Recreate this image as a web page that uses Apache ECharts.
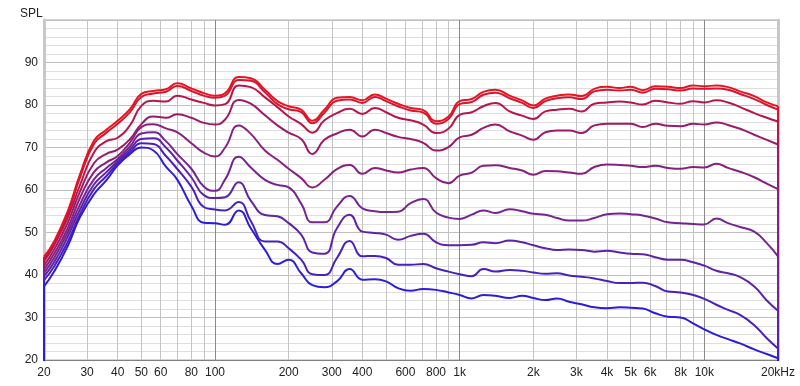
<!DOCTYPE html>
<html><head><meta charset="utf-8">
<script src="https://cdn.jsdelivr.net/npm/echarts@6/dist/echarts.min.js"></script>
<style>html,body{margin:0;padding:0;background:#fff}#c{width:800px;height:386px}</style>
</head><body><div id="c"></div>
<script>
const freqs = [20,22,25,28,32,36,40,45,50,56,63,70,80,90,
  100,110,125,140,160,180,200,225,250,280,315,355,400,450,500,560,630,710,800,900,
  1000,1120,1250,1400,1600,1800,2000,2240,2500,2800,3150,3550,4000,4500,5000,5600,6300,7100,8000,9000,
  10000,11200,12500,14000,16000,18000,20000];

const c0 = [44.3,47.9,55.0,63.5,71.6,74.2,76.3,79.1,82.6,83.3,83.7,85.1,83.9,82.8,
  82.2,82.8,86.6,86.3,83.6,80.9,79.7,78.9,76.3,78.9,81.7,81.9,81.1,82.5,81.5,80.3,79.3,78.8,76.2,77.3,
  80.9,81.4,83.1,83.6,82.2,81.1,79.9,81.5,82.2,82.5,82.1,83.8,84.3,84.0,84.3,83.5,84.4,84.3,84.0,84.6,
  84.4,84.6,84.2,83.2,82.1,80.6,79.7];
const c1 = [43.8,47.3,54.3,62.8,70.8,73.5,75.6,78.4,81.9,82.7,83.1,84.5,83.3,82.2,
  81.7,82.2,85.9,85.7,83.0,80.2,79.0,78.3,75.7,78.2,81.0,81.3,80.5,81.9,80.9,79.7,78.7,78.2,75.6,76.7,
  80.2,80.7,82.4,82.9,81.6,80.5,79.3,80.9,81.6,81.8,81.4,83.2,83.6,83.4,83.6,82.9,83.8,83.7,83.4,83.9,
  83.8,83.9,83.6,82.6,81.4,80.0,78.9];
const c2 = [43.2,47.0,53.5,61.0,68.8,71.5,72.3,75.3,79.8,81.0,80.8,82.2,81.3,80.5,
  79.9,80.2,84.6,84.2,81.8,79.5,77.3,75.5,73.5,76.4,78.1,79.1,77.9,79.3,78.3,77.0,76.4,75.4,73.4,74.4,
  77.7,78.3,79.7,80.5,78.5,77.5,76.7,78.5,78.9,79.1,78.5,80.3,80.6,80.8,80.6,80.1,81.0,80.6,80.3,80.9,
  80.6,81.1,80.6,79.5,78.1,77.0,76.1];
const c3 = [42.2,46.0,52.3,59.5,66.3,68.5,69.5,72.0,75.5,77.3,77.0,77.8,77.0,75.8,
  75.4,76.6,81.2,80.3,77.6,75.2,73.5,72.0,68.5,71.8,73.3,74.2,72.6,74.2,73.4,72.5,72.0,71.1,69.3,70.1,
  72.4,73.0,74.6,75.4,73.8,72.8,71.8,73.6,74.0,74.0,73.4,75.2,75.6,75.6,75.6,74.8,75.6,75.1,75.0,75.6,
  75.4,75.9,75.3,74.4,73.0,71.8,70.7];
const c4 = [41.3,45.0,51.0,58.0,64.2,66.5,68.0,71.2,74.8,75.5,74.5,73.6,71.0,68.8,
  67.9,70.0,75.2,73.2,69.3,67.1,65.0,62.8,60.6,62.4,64.9,65.9,63.8,65.2,64.6,64.1,64.8,65.2,62.8,61.6,
  63.4,64.1,65.7,65.8,65.2,64.6,63.6,64.5,64.4,64.1,63.8,65.4,66.0,65.9,65.7,65.4,65.7,65.2,65.0,65.4,
  65.3,66.2,65.2,64.3,63.0,61.5,60.2];
const c5 = [40.5,44.0,50.0,56.5,62.5,65.2,67.3,70.3,73.3,73.6,71.5,68.5,65.0,60.8,
  59.8,62.5,67.8,65.3,62.4,61.2,60.6,56.8,52.4,52.4,56.1,58.6,55.7,55.0,54.8,54.9,56.9,57.9,54.7,53.5,
  53.2,54.2,55.2,54.6,55.5,55.0,54.4,54.2,53.4,52.8,52.8,53.4,54.3,54.5,54.3,54.0,53.3,52.4,52.2,52.0,
  51.9,53.3,52.2,51.3,50.2,47.5,44.4];
const c6 = [39.7,43.0,49.0,55.3,61.3,64.2,66.8,69.6,72.0,72.2,70.0,67.0,63.0,58.8,
  58.1,58.3,61.8,57.5,54.1,53.8,52.2,49.5,45.3,45.0,51.0,54.2,50.2,49.9,49.5,48.3,49.2,49.7,47.7,47.0,
  47.0,47.1,47.7,47.5,48.1,47.7,47.0,46.3,45.9,46.0,45.9,45.5,45.7,45.3,45.0,44.9,44.2,43.6,43.6,43.0,
  42.2,41.0,40.4,39.5,37.3,34.0,31.6];
const c7 = [38.8,42.0,47.8,54.2,60.2,63.3,66.3,69.0,71.0,70.8,68.0,65.0,60.8,56.0,
  55.4,55.2,57.2,52.7,47.9,47.9,46.3,43.6,40.2,40.0,44.0,48.0,44.4,44.5,44.0,42.4,42.4,42.6,41.6,40.8,
  40.2,39.7,41.4,40.8,41.2,41.0,40.6,40.3,40.4,39.9,39.6,39.2,38.6,38.1,38.1,38.2,37.4,36.1,35.9,35.3,
  34.4,33.0,31.8,30.6,28.2,25.1,22.7];
const c8 = [37.3,40.8,46.8,53.5,59.0,62.3,65.8,68.5,70.0,69.3,65.5,62.5,56.3,52.3,
  52.2,51.8,55.2,51.0,45.9,42.6,43.6,40.4,37.6,37.1,38.5,41.4,38.9,39.0,38.5,36.9,36.3,36.7,36.5,35.9,
  35.3,34.5,35.3,35.1,34.6,35.1,34.6,34.1,34.5,33.7,33.1,32.4,32.2,32.4,32.3,32.1,31.0,30.2,30.0,28.6,
  27.2,25.9,24.9,23.9,22.5,21.4,20.4];

const curves = [c0, c1, c2, c3, c4, c5, c6, c7, c8];
const curveColors = ['#e8141e','#d81430','#b8164a','#9c1a6a','#88207e','#76248f','#6022a6','#4a20bd','#2c1ed8'];

const gridFreqs = [20,30,40,50,60,70,80,90,100,200,300,400,500,600,700,800,900,
  1000,2000,3000,4000,5000,6000,7000,8000,9000,10000,20000];
const labelFreqs = [20,30,40,50,60,80,100,200,300,400,600,800,1000,2000,3000,4000,5000,6000,8000,10000,20000];
const decadeFreqs = [100,1000,10000];
const yMin = 20, yMax = 100, yStep = 10;
const floorValue = 0;

function fmtFreq(v) {
  v = Math.round(v);
  if (v >= 1000) return (v / 1000) + 'k' + (v === 20000 ? 'Hz' : '');
  return String(v);
}

const series = [];
curves.forEach((vals, i) => {
  const col = curveColors[i];
  series.push({
    type: 'line', xAxisIndex: 0, data: freqs.map((f, k) => [f, vals[k]]),
    smooth: 0.5, symbol: 'none', clip: true, z: 10 + i,
    lineStyle: { width: 2, color: col }, emphasis: { disabled: true }
  });
  series.push({
    type: 'line', xAxisIndex: 0,
    data: [[freqs[0], floorValue], [freqs[0], vals[0]]],
    symbol: 'none', clip: true, z: 10 + i,
    lineStyle: { width: 2, color: col }, emphasis: { disabled: true }
  });
  series.push({
    type: 'line', xAxisIndex: 0,
    data: [[freqs[freqs.length - 1], vals[vals.length - 1]], [freqs[freqs.length - 1], floorValue]],
    symbol: 'none', clip: true, z: 10 + i,
    lineStyle: { width: 2, color: col }, emphasis: { disabled: true }
  });
});

const font = 'Liberation Sans';
const chart = echarts.init(document.getElementById('c'), null, { renderer: 'canvas' });
chart.setOption({
  animation: false,
  backgroundColor: '#ffffff',
  title: { text: 'SPL', left: 15, top: 3, textStyle: { fontFamily: font, fontSize: 12, fontWeight: 'normal', color: '#222' } },
  grid: { left: 44, right: 22, top: 20, bottom: 26, show: true, borderColor: '#a8a8a8', borderWidth: 1 },
  xAxis: [{
    type: 'log', logBase: 10, min: 20, max: 20000,
    axisLine: { show: true, onZero: false, lineStyle: { color: '#808080', width: 1 } },
    axisTick: { show: false, customValues: gridFreqs },
    axisLabel: { customValues: labelFreqs, formatter: fmtFreq, fontFamily: font, fontSize: 12, color: '#222', margin: 7 },
    splitLine: { show: true, lineStyle: { color: '#c4c4c4', width: 1 } },
    minorTick: { show: false }, minorSplitLine: { show: false }
  }, {
    type: 'log', logBase: 10, min: 20, max: 20000, position: 'bottom',
    axisLine: { show: false }, axisTick: { show: false, customValues: decadeFreqs },
    axisLabel: { show: false },
    splitLine: { show: true, lineStyle: { color: '#8a8a8a', width: 1 } }
  }],
  yAxis: [{
    type: 'value', min: yMin, max: yMax, interval: yStep,
    axisLine: { show: true, lineStyle: { color: '#c8c8c8', width: 3 } },
    axisTick: { show: false },
    axisLabel: { fontFamily: font, fontSize: 12, color: '#222', margin: 6,
      formatter: v => (v >= yMax ? '' : String(v)) },
    splitLine: { show: true, lineStyle: { color: '#c0c0c0', width: 1 } },
    minorTick: { show: false, splitNumber: 5 },
    minorSplitLine: { show: true, lineStyle: { color: '#dedede', width: 1 } }
  }, {
    type: 'value', min: yMin, max: yMax, interval: yStep, position: 'right',
    axisLine: { show: true, lineStyle: { color: '#c8c8c8', width: 3 } },
    axisTick: { show: false }, axisLabel: { show: false }, splitLine: { show: false }
  }],
  series: series
});
</script></body></html>
